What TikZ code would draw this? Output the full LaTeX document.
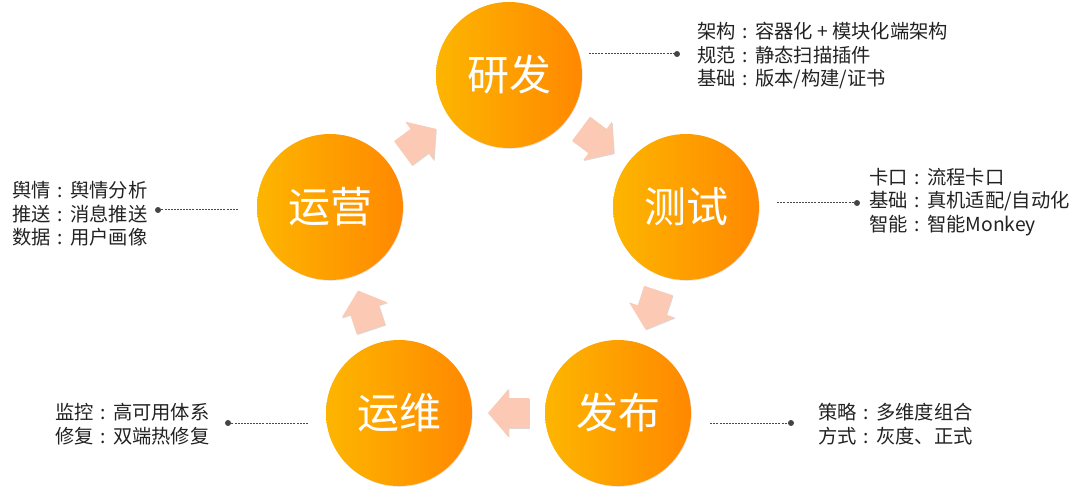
\documentclass[tikz,border=0pt]{standalone}
\usepackage{fontspec}
\setmainfont{Noto Sans CJK SC}
\usetikzlibrary{calc,shadows}
\definecolor{orA}{HTML}{FDB500}
\definecolor{orB}{HTML}{FF8800}
\definecolor{arrc}{HTML}{FCC9B4}
\definecolor{txtc}{HTML}{222222}
\definecolor{dashc}{HTML}{4A4A4A}
\definecolor{dotc}{HTML}{444444}
\newcommand{\sep}{\makebox[1em][c]{:}}
\begin{document}
\begin{tikzpicture}[x=1pt,y=-1pt,
  stage/.style={circle, minimum size=146pt, inner sep=0pt, left color=orA, right color=orB,
    text=white, font=\fontsize{42}{42}\selectfont,
    drop shadow={opacity=0.22, shadow xshift=0.6pt, shadow yshift=-0.8pt}},
  info/.style={align=left, inner sep=0pt, text=txtc, font=\fontsize{19.3}{23.5}\selectfont},
  leader/.style={draw=dashc, line width=1pt, dash pattern=on 2pt off 1.1pt},
  enddot/.style={fill=dotc},
  arrowshape/.style={fill=arrc, drop shadow={opacity=0.3, shadow xshift=0.8pt, shadow yshift=-0.8pt}},
  blockarrow/.pic={\path[arrowshape] (-20.5,-15) -- (0,-15) -- (0,-24) -- (20.5,0) -- (0,24) -- (0,15) -- (-20.5,15) -- cycle;}
]
\useasboundingbox (0,0) rectangle (1080,492);

% stages
\node[stage] (yanfa)  at (509,75)  {研发};
\node[stage] (ceshi)  at (686,207) {测试};
\node[stage] (fabu)   at (618,413) {发布};
\node[stage] (yunwei) at (399,413) {运维};
\node[stage] (yunying) at (330,207) {运营};

% cycle arrows
\path (yunying) -- (yanfa) pic[pos=0.5, sloped, allow upside down] {blockarrow};
\path (yanfa) -- (ceshi) pic[pos=0.5, sloped, allow upside down] {blockarrow};
\path (ceshi) -- (fabu) pic[pos=0.5, sloped, allow upside down] {blockarrow};
\path (fabu) -- (yunwei) pic[pos=0.5, sloped, allow upside down] {blockarrow};
\path (yunwei) -- (yunying) pic[pos=0.5, sloped, allow upside down] {blockarrow};

% leaders
\coordinate (s1) at ($(yanfa.center)+(80,-21)$);
\coordinate (d1) at (677,54);
\coordinate (s2) at ($(ceshi.east)+(18,-4)$);
\coordinate (d2) at (857,203);
\coordinate (s3) at ($(yunying.west)+(-19,3)$);
\coordinate (d3) at (158,210);
\coordinate (s4) at ($(yunwei.west)+(-18,10)$);
\coordinate (d4) at (228,423);
\coordinate (s5) at ($(fabu.east)+(19,10)$);
\coordinate (d5) at (791,423);

\foreach \s/\d in {s1/d1,s2/d2,s3/d3,s4/d4,s5/d5}{
  \draw[leader] (\s) -- (\d);
  \fill[enddot] (\d) circle (3);
}

% texts
\node[info, anchor=west] (t1) at (697,56) {架构\sep 容器化 + 模块化端架构\\规范\sep 静态扫描插件\\基础\sep 版本/构建/证书};
\node[info, anchor=west] (t2) at (869,202) {卡口\sep 流程卡口\\基础\sep 真机适配/自动化\\智能\sep 智能Monkey};
\node[info, anchor=west] (t3) at (12,214) {舆情\sep 舆情分析\\推送\sep 消息推送\\数据\sep 用户画像};
\node[info, anchor=west] (t4) at (55,424) {监控\sep 高可用体系\\修复\sep 双端热修复};
\node[info, anchor=west] (t5) at (818,424) {策略\sep 多维度组合\\方式\sep 灰度、正式};
\end{tikzpicture}
\end{document}
